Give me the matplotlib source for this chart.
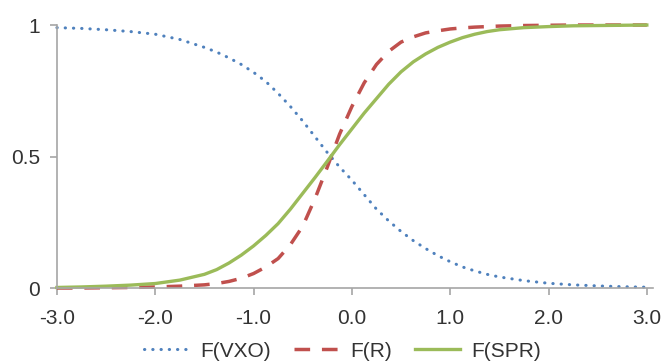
import matplotlib
matplotlib.use("Agg")
import matplotlib.pyplot as plt

plt.rcParams["font.family"] = ["Liberation Sans", "DejaVu Sans"]

# values
x_vals = [-3.0, -2.75, -2.5, -2.25, -2.0, -1.75, -1.5, -1.375, -1.25, -1.125, -1.0,
          -0.875, -0.75, -0.625, -0.5, -0.375, -0.25, -0.125, 0.0, 0.125, 0.25, 0.375,
          0.5, 0.625, 0.75, 0.875, 1.0, 1.125, 1.25, 1.375, 1.5, 1.75, 2.0, 2.25, 2.5,
          2.75, 3.0]
f_vxo = [0.990, 0.987, 0.982, 0.975, 0.965, 0.945, 0.915, 0.897, 0.875, 0.850, 0.820,
         0.785, 0.740, 0.690, 0.635, 0.575, 0.515, 0.460, 0.410, 0.355, 0.300, 0.255,
         0.215, 0.180, 0.150, 0.123, 0.100, 0.080, 0.065, 0.052, 0.042, 0.028, 0.018,
         0.012, 0.008, 0.005, 0.003]
f_r = [0.0, 0.0, 0.001, 0.002, 0.004, 0.007, 0.012, 0.017, 0.025, 0.037, 0.055,
       0.080, 0.112, 0.165, 0.235, 0.340, 0.460, 0.585, 0.690, 0.780, 0.850, 0.900,
       0.935, 0.955, 0.970, 0.978, 0.985, 0.989, 0.992, 0.994, 0.996, 0.998, 0.999,
       1.0, 1.0, 1.0, 1.0]
f_spr = [0.002, 0.004, 0.007, 0.011, 0.017, 0.030, 0.052, 0.070, 0.095, 0.125, 0.160,
         0.200, 0.245, 0.300, 0.360, 0.420, 0.482, 0.545, 0.605, 0.665, 0.720, 0.775,
         0.822, 0.860, 0.890, 0.915, 0.935, 0.952, 0.965, 0.975, 0.982, 0.990, 0.994,
         0.997, 0.998, 0.999, 1.0]
labels = ["F(VXO)", "F(R)", "F(SPR)"]
x_ticks = [-3.0, -2.0, -1.0, 0.0, 1.0, 2.0, 3.0]
y_ticks = [0, 0.5, 1]
y_ticklabels = ["0", "0.5", "1"]

text_color = "#333333"
axis_color = "#a6a6a6"

fig = plt.figure(figsize=(6.62, 3.63), dpi=100)
ax = fig.add_axes([0.086, 0.2066, 0.9, 0.7245])

ax.plot(x_vals, f_vxo, color="#4f81bd", linewidth=2.2, linestyle=(0, (0.1, 2.6)),
        dash_capstyle="round", label=labels[0], clip_on=False)
ax.plot(x_vals, f_r, color="#c0504d", linewidth=2.5, linestyle=(0, (4.5, 3.4)),
        label=labels[1], clip_on=False)
ax.plot(x_vals, f_spr, color="#9bbb59", linewidth=2.4, label=labels[2], clip_on=False)

ax.set_xlim(-3.0, 3.06)
ax.set_ylim(0, 1)
ax.set_xticks(x_ticks)
ax.set_xticklabels([f"{t:.1f}" for t in x_ticks])
ax.set_yticks(y_ticks)
ax.set_yticklabels(y_ticklabels)

for side in ["top", "right"]:
    ax.spines[side].set_visible(False)
for side in ["left", "bottom"]:
    ax.spines[side].set_color(axis_color)
    ax.spines[side].set_linewidth(1.2)

ax.tick_params(axis="both", colors=axis_color, labelcolor=text_color, labelsize=15,
               length=5, width=1.2, direction="out")
ax.tick_params(axis="x", pad=10)
ax.tick_params(axis="y", pad=7)

ax.legend(loc="lower center", bbox_to_anchor=(0.517, -0.045), bbox_transform=fig.transFigure,
          ncol=3, frameon=False, fontsize=15, handlelength=2.2, handletextpad=0.5,
          columnspacing=1.1, labelcolor=text_color)

fig.savefig("out.png", dpi=100)
